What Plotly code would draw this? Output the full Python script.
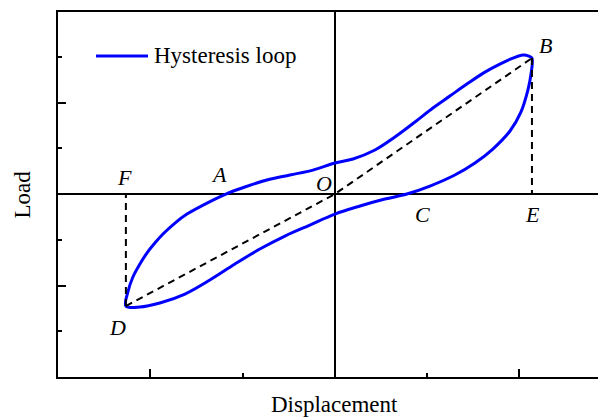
import plotly.graph_objects as go

# Hysteresis loop: loading branch (D -> A -> B)
upper_disp = [-1.133, -1.122, -1.095, -1.057, -1.019, -0.976, -0.932, -0.867, -0.802,
              -0.661, -0.591, -0.488, -0.369, -0.244, -0.119, 0.0, 0.098, 0.217, 0.325,
              0.434, 0.531, 0.623, 0.715, 0.813, 0.894, 0.965, 1.019, 1.051, 1.068]
upper_load = [-1.224, -1.071, -0.907, -0.765, -0.645, -0.536, -0.437, -0.317, -0.219,
              -0.066, 0.0, 0.077, 0.153, 0.208, 0.262, 0.339, 0.383, 0.481, 0.623,
              0.787, 0.940, 1.071, 1.202, 1.333, 1.421, 1.486, 1.519, 1.508, 1.486]

# Unloading branch (B -> C -> D)
lower_disp = [1.068, 1.062, 1.046, 1.008, 0.949, 0.856, 0.759, 0.650, 0.515, 0.390, 0.271,
              0.136, 0.0, -0.136, -0.271, -0.407, -0.542, -0.678, -0.813, -0.949, -1.057, -1.133]
lower_load = [1.486, 1.301, 1.137, 0.896, 0.689, 0.492, 0.339, 0.208, 0.087, 0.0, -0.055,
              -0.131, -0.219, -0.339, -0.459, -0.601, -0.765, -0.940, -1.093, -1.191, -1.235, -1.224]

# Key points of the loop
point_names = ["B", "D", "O"]
point_disp = [1.068, -1.133, 0.0]
point_load = [1.486, -1.224, 0.0]

# Letter labels and where they sit
label_text = ["F", "A", "O", "B", "C", "E", "D"]
label_disp = [-1.138, -0.629, -0.060, 1.144, 0.472, 1.073, -1.176]
label_load = [0.186, 0.219, 0.120, 1.628, -0.219, -0.219, -1.454]

BLUE = "#0000FF"
SERIF = "Liberation Serif, Times New Roman, serif"

fig = go.Figure()

loop_x = upper_disp + lower_disp[1:]
loop_y = upper_load + lower_load[1:]
fig.add_trace(go.Scatter(x=loop_x, y=loop_y, mode="lines",
                         line=dict(color=BLUE, width=3, shape="spline", smoothing=1.0),
                         name="Hysteresis loop", showlegend=False))

pB = (point_disp[0], point_load[0])
pD = (point_disp[1], point_load[1])
pO = (point_disp[2], point_load[2])
dash_style = dict(color="black", width=2, dash="7px,5px")

# Secant D-O-B
fig.add_trace(go.Scatter(x=[pD[0], pO[0], pB[0]], y=[pD[1], pO[1], pB[1]], mode="lines",
                         line=dash_style, showlegend=False))
# Verticals D-F and B-E
fig.add_trace(go.Scatter(x=[pD[0], pD[0]], y=[pD[1], 0], mode="lines",
                         line=dash_style, showlegend=False))
fig.add_trace(go.Scatter(x=[pB[0], pB[0]], y=[pB[1], 0], mode="lines",
                         line=dash_style, showlegend=False))

for t, x, y in zip(label_text, label_disp, label_load):
    fig.add_annotation(x=x, y=y, text=f"<i>{t}</i>", showarrow=False,
                       xanchor="center", yanchor="middle",
                       font=dict(family=SERIF, size=22, color="black"))

# Legend entry
fig.add_shape(type="line", xref="paper", yref="paper",
              x0=(96 - 58) / 540, x1=(148 - 58) / 540,
              y0=(377 - 56) / 365, y1=(377 - 56) / 365,
              line=dict(color=BLUE, width=3))
fig.add_annotation(xref="paper", yref="paper", x=(152 - 58) / 540, y=(377 - 56) / 365,
                   text="Hysteresis loop", showarrow=False, xanchor="left", yanchor="middle",
                   font=dict(family=SERIF, size=23, color="black"))

# Axis titles
fig.add_annotation(xref="paper", yref="paper", x=0, y=0.5, xshift=-36, textangle=-90,
                   xanchor="center", yanchor="middle",
                   text="Load", showarrow=False,
                   font=dict(family=SERIF, size=23, color="black"))
fig.add_annotation(xref="x", yref="paper", x=0, y=0, yshift=-27,
                   xanchor="center", yanchor="middle",
                   text="Displacement", showarrow=False,
                   font=dict(family=SERIF, size=23, color="black"))

axis_common = dict(showgrid=False, showticklabels=False, ticks="inside", ticklen=8,
                   tickwidth=1.5, tickcolor="black", showline=True, linecolor="black",
                   linewidth=1.5, zeroline=True, zerolinecolor="black", zerolinewidth=1.5,
                   tick0=0, dtick=1)

fig.update_xaxes(range=[-1.501, 1.426], mirror=True,
                 minor=dict(ticks="inside", ticklen=4, tickwidth=1.5, tickcolor="black", dtick=0.5),
                 **axis_common)
fig.update_yaxes(range=[-2.0, 1.99], mirror=False,
                 minor=dict(ticks="inside", ticklen=4, tickwidth=1.5, tickcolor="black", dtick=0.5),
                 **axis_common)

fig.update_layout(width=598, height=417, margin=dict(l=58, r=0, t=12, b=40),
                  paper_bgcolor="white", plot_bgcolor="white", showlegend=False)

fig.write_html("out.html")
